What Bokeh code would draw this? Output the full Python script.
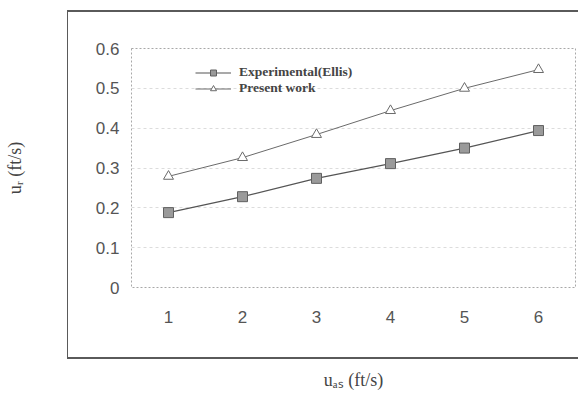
from bokeh.plotting import figure
from bokeh.models import Range1d, FixedTicker, Legend, LegendItem, InlineStyleSheet
from bokeh.embed import file_html
from bokeh.resources import INLINE

u_as = [1, 2, 3, 4, 5, 6]
experimental = [0.188, 0.228, 0.274, 0.311, 0.350, 0.394]
present = [0.279, 0.326, 0.384, 0.444, 0.500, 0.547]
y_ticks = [0, 0.1, 0.2, 0.3, 0.4, 0.5, 0.6]
y_tick_labels = ["0", "0.1", "0.2", "0.3", "0.4", "0.5", "0.6"]
x_ticks = [1, 2, 3, 4, 5, 6]

box_css = InlineStyleSheet(css="""
:host { position: relative; }
:host::after {
  content: "";
  position: absolute;
  left: 67px; top: 10px; width: 510px; height: 345px;
  border-top: 2px solid #5a5a5a;
  border-left: 1.5px solid #5a5a5a;
  border-bottom: 2px solid #5a5a5a;
  pointer-events: none;
}
""")

p = figure(width=577, height=397, output_backend="svg", toolbar_location=None,
           x_range=Range1d(0.5, 6.5), y_range=Range1d(0, 0.6),
           min_border_left=131, min_border_right=2, min_border_top=48, min_border_bottom=110,
           stylesheets=[box_css])
p.background_fill_color = "white"
p.border_fill_color = "white"
p.outline_line_color = "#a8a8a8"
p.outline_line_dash = "2 2"
p.outline_line_width = 1

p.xgrid.visible = False
p.ygrid.grid_line_color = "#dcdcdc"
p.ygrid.grid_line_dash = "3 3"
p.ygrid.ticker = FixedTicker(ticks=y_ticks)

for ax in (p.xaxis[0], p.yaxis[0]):
    ax.axis_line_color = None
    ax.major_tick_line_color = None
    ax.minor_tick_line_color = None
    ax.major_label_text_font = "Liberation Sans"
    ax.major_label_text_font_size = "17px"
    ax.major_label_text_color = "#555555"
    ax.axis_label_text_font = "Liberation Serif"
    ax.axis_label_text_font_style = "normal"
    ax.axis_label_text_font_size = "18px"
    ax.axis_label_text_color = "#444444"

p.yaxis.ticker = FixedTicker(ticks=y_ticks)
p.yaxis.major_label_overrides = dict(zip(y_ticks, y_tick_labels))
p.yaxis.major_label_standoff = 6
p.yaxis.axis_label = "uᵣ (ft/s)"
p.yaxis.axis_label_standoff = 68

p.xaxis.ticker = FixedTicker(ticks=x_ticks)
p.xaxis.major_label_standoff = 17
p.xaxis.axis_label = "uₐₛ (ft/s)"
p.xaxis.axis_label_standoff = 44

l1 = p.line(u_as, experimental, line_color="#555555", line_width=1.2)
m1 = p.scatter(u_as, experimental, marker="square", size=10,
               fill_color="#9a9a9a", line_color="#606060", line_width=1)
l2 = p.line(u_as, present, line_color="#6a6a6a", line_width=1)
m2 = p.scatter(u_as, present, marker="triangle", size=10,
               fill_color="white", line_color="#6a6a6a", line_width=1)

legend = Legend(items=[
    LegendItem(label="Experimental(Ellis)", renderers=[l1, m1]),
    LegendItem(label="Present work", renderers=[l2, m2]),
], location=(64, 191))
legend.background_fill_alpha = 0
legend.border_line_color = None
legend.padding = 0
legend.margin = 0
legend.spacing = 0
legend.glyph_width = 36
legend.glyph_height = 15
legend.label_height = 15
legend.label_standoff = 8
legend.label_text_font = "Liberation Serif"
legend.label_text_font_style = "bold"
legend.label_text_font_size = "13.5px"
legend.label_text_color = "#444444"
p.add_layout(legend)

open("out.html", "w").write(file_html(p, INLINE))
